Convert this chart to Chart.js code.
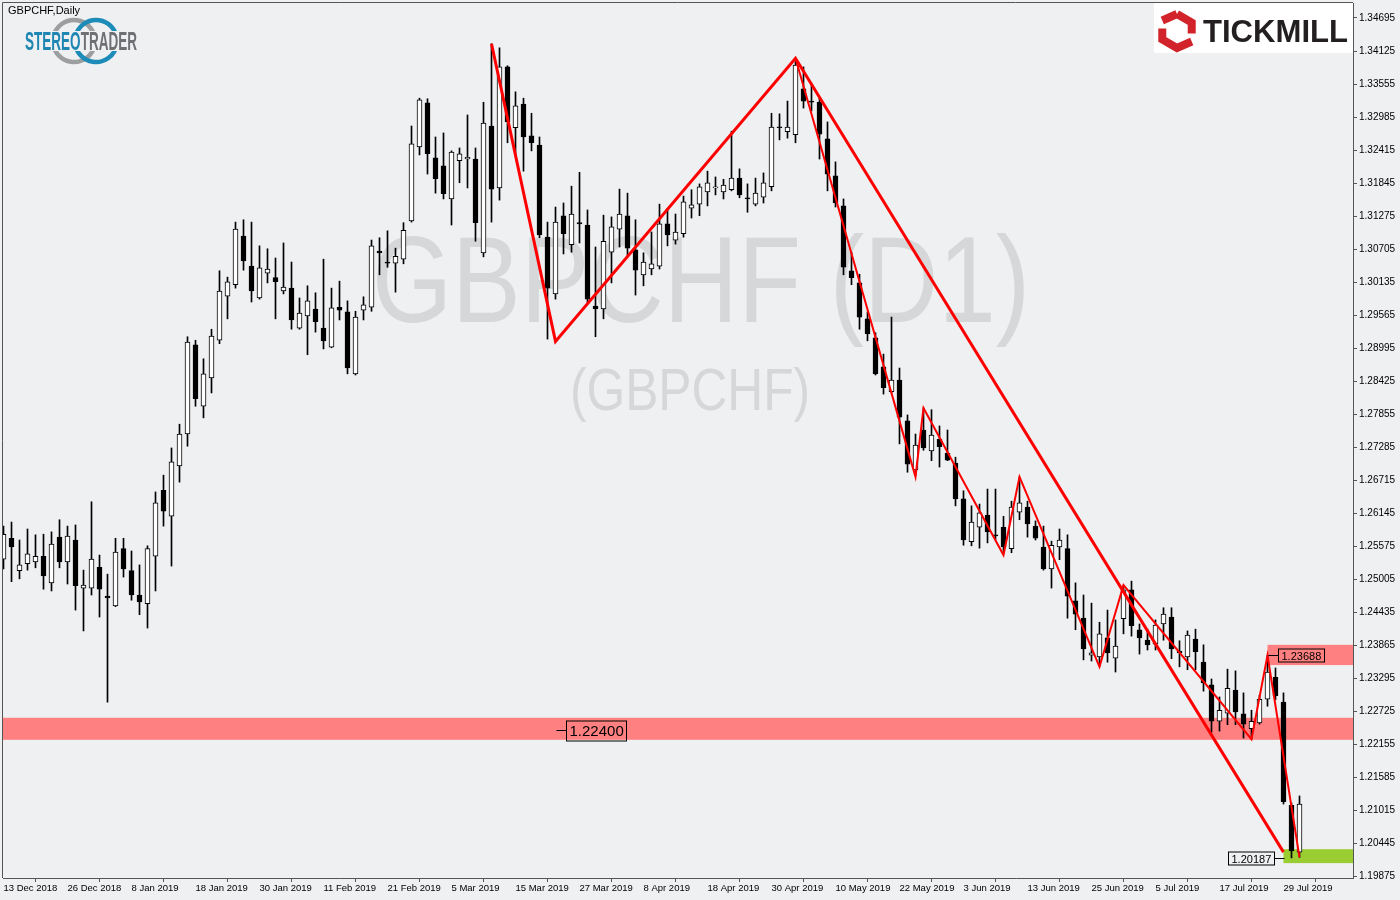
<!DOCTYPE html>
<html><head><meta charset="utf-8">
<script src="https://cdn.jsdelivr.net/npm/chart.js@4.4.1/dist/chart.umd.min.js"></script>
<style>html,body{margin:0;padding:0;background:#EFF0F2;}canvas{display:block;}</style>
</head><body>
<canvas id="c" width="1400" height="900"></canvas>
<script>
// ---------------- DATA ----------------
const symbolTitle = 'GBPCHF,Daily';
const watermarkMain = 'GBPCHF (D1)';
const watermarkSub = '(GBPCHF)';
// bar index of each bottom date label (one label every 8 daily bars)
const xTickBars = [0,8,16,24,32,40,48,56,64,72,80,88,96,104,112,120,128,136,144,152,160];
const xTickLabels = ['13 Dec 2018','26 Dec 2018','8 Jan 2019','18 Jan 2019','30 Jan 2019','11 Feb 2019','21 Feb 2019','5 Mar 2019','15 Mar 2019','27 Mar 2019','8 Apr 2019','18 Apr 2019','30 Apr 2019','10 May 2019','22 May 2019','3 Jun 2019','13 Jun 2019','25 Jun 2019','5 Jul 2019','17 Jul 2019','29 Jul 2019'];
const yTickValues = [1.34695,1.34125,1.33555,1.32985,1.32415,1.31845,1.31275,1.30705,1.30135,1.29565,1.28995,1.28425,1.27855,1.27285,1.26715,1.26145,1.25575,1.25005,1.24435,1.23865,1.23295,1.22725,1.22155,1.21585,1.21015,1.20445,1.19875];
const yMin = 1.19843, yMax = 1.34954;
const xMin = -0.0625, xMax = 168.6875;

const open = [1.2535,1.2571,1.2515,1.2527,1.2530,1.2540,1.2494,1.2573,1.2530,1.2568,
1.2485,1.2485,1.2521,1.2471,1.2454,1.2553,1.2515,1.2473,1.2458,1.2540,
1.2654,1.2609,1.2696,1.2751,1.2905,1.2799,1.2848,1.2913,1.2989,1.3009,
1.3093,1.3041,1.2986,1.3029,1.3021,1.2998,1.3003,1.2934,1.2955,1.2967,
1.2934,1.2901,1.2970,1.2962,1.2855,1.2965,1.2970,1.3067,1.3048,1.3046,
1.3053,1.3119,1.3247,1.3323,1.3228,1.3214,1.3157,1.3223,1.3226,1.3226,
1.3064,1.3283,1.3176,1.3385,1.3280,1.3321,1.3266,1.3250,1.3091,1.2993,
1.3128,1.3078,1.3116,1.3112,1.2972,1.2967,1.3065,1.3105,1.3128,1.3069,
1.3026,1.3036,1.3041,1.3114,1.3086,1.3097,1.3141,1.3148,1.3169,1.3176,
1.3169,1.3173,1.3193,1.3159,1.3148,1.3160,1.3178,1.3281,1.3273,1.3268,
1.3347,1.3326,1.3324,1.3261,1.3197,1.3145,1.3033,1.3012,1.2950,1.2917,
1.2867,1.2824,1.2844,1.2774,1.2689,1.2758,1.2722,1.2742,1.2718,1.2701,
1.2639,1.2565,1.2590,1.2611,1.2577,1.2590,1.2553,1.2616,1.2625,1.2592,
1.2556,1.2518,1.2556,1.2553,1.2463,1.2433,1.2369,1.2366,1.2399,1.2364,
1.2432,1.2482,1.2413,1.2395,1.2388,1.2423,1.2435,1.2376,1.2366,1.2397,
1.2357,1.2318,1.2255,1.2269,1.2309,1.2268,1.2242,1.2252,1.2293,1.2331,
1.2288,1.2110,1.2029];
const high = [1.2592,1.2599,1.2568,1.2587,1.2577,1.2578,1.2582,1.2603,1.2592,1.2594,
1.2516,1.2634,1.2542,1.2509,1.2571,1.2571,1.2549,1.2525,1.2558,1.2651,
1.2680,1.2727,1.2768,1.2919,1.2913,1.2881,1.2932,1.3033,1.3022,1.3117,
1.3121,1.3117,1.3076,1.3071,1.3055,1.3081,1.3048,1.2986,1.3007,1.2995,
1.3053,1.3003,1.3015,1.2981,1.2963,1.2988,1.3086,1.3090,1.3102,1.3072,
1.3116,1.3283,1.3331,1.3330,1.3264,1.3271,1.3240,1.3245,1.3302,1.3245,
1.3324,1.3425,1.3418,1.3387,1.3342,1.3331,1.3305,1.3264,1.3117,1.3143,
1.3150,1.3179,1.3203,1.3138,1.3074,1.3129,1.3126,1.3174,1.3167,1.3121,
1.3064,1.3100,1.3148,1.3140,1.3131,1.3162,1.3173,1.3183,1.3205,1.3195,
1.3191,1.3274,1.3209,1.3183,1.3193,1.3202,1.3305,1.3304,1.3326,1.3400,
1.3385,1.3356,1.3331,1.3290,1.3221,1.3157,1.3065,1.3027,1.2962,1.2926,
1.2889,1.2953,1.2865,1.2784,1.2751,1.2796,1.2793,1.2765,1.2758,1.2711,
1.2653,1.2627,1.2630,1.2656,1.2656,1.2609,1.2635,1.2677,1.2635,1.2601,
1.2592,1.2566,1.2587,1.2577,1.2494,1.2473,1.2459,1.2426,1.2447,1.2430,
1.2490,1.2497,1.2423,1.2414,1.2430,1.2451,1.2451,1.2394,1.2411,1.2414,
1.2387,1.2328,1.2297,1.2345,1.2342,1.2304,1.2274,1.2300,1.2369,1.2347,
1.2304,1.2114,1.2126];
const low = [1.2518,1.2496,1.2501,1.2516,1.2520,1.2483,1.2480,1.2520,1.2492,1.2447,
1.2411,1.2473,1.2435,1.2288,1.2453,1.2504,1.2464,1.2439,1.2416,1.2480,
1.2592,1.2523,1.2668,1.2730,1.2799,1.2779,1.2822,1.2907,1.2950,1.3003,
1.3034,1.2979,1.2984,1.3012,1.2950,1.2993,1.2932,1.2932,1.2888,1.2927,
1.2898,1.2900,1.2948,1.2855,1.2853,1.2948,1.2963,1.3026,1.3039,1.2996,
1.3045,1.3117,1.3233,1.3200,1.3167,1.3157,1.3112,1.3185,1.3176,1.3084,
1.3057,1.3117,1.3155,1.3254,1.3233,1.3205,1.3240,1.3090,1.2915,1.2984,
1.3062,1.3065,1.3081,1.2976,1.2919,1.2950,1.3012,1.3074,1.3058,1.2991,
1.3007,1.3026,1.3036,1.3076,1.3079,1.3091,1.3124,1.3128,1.3145,1.3164,
1.3157,1.3171,1.3159,1.3134,1.3145,1.3150,1.3171,1.3259,1.3262,1.3254,
1.3314,1.3309,1.3226,1.3171,1.3143,1.3026,1.3009,1.2932,1.2912,1.2853,
1.2820,1.2822,1.2734,1.2685,1.2679,1.2723,1.2705,1.2694,1.2705,1.2627,
1.2559,1.2558,1.2554,1.2563,1.2568,1.2546,1.2546,1.2603,1.2573,1.2568,
1.2516,1.2485,1.2534,1.2433,1.2413,1.2361,1.2359,1.2350,1.2357,1.2340,
1.2406,1.2402,1.2371,1.2378,1.2378,1.2395,1.2363,1.2349,1.2344,1.2344,
1.2307,1.2236,1.2238,1.2249,1.2249,1.2226,1.2224,1.2250,1.2281,1.2292,
1.2112,1.2019,1.2020];
const close = [1.2578,1.2556,1.2525,1.2544,1.2540,1.2506,1.2561,1.2530,1.2575,1.2489,
1.2490,1.2535,1.2483,1.2468,1.2547,1.2518,1.2473,1.2461,1.2553,1.2632,
1.2618,1.2703,1.2751,1.2910,1.2812,1.2855,1.2920,1.2998,1.3014,1.3105,
1.3050,1.2998,1.3038,1.3036,1.3014,1.3005,1.2948,1.2960,1.2981,1.2945,
1.2912,1.2969,1.2965,1.2865,1.2953,1.2974,1.3076,1.3064,1.3046,1.3058,
1.3103,1.3252,1.3328,1.3235,1.3192,1.3166,1.3238,1.3235,1.3229,1.3116,
1.3288,1.3174,1.3385,1.3290,1.3318,1.3264,1.3254,1.3095,1.3003,1.3117,
1.3097,1.3131,1.3114,1.2984,1.2967,1.3084,1.3109,1.3131,1.3072,1.3034,
1.3048,1.3045,1.3114,1.3095,1.3100,1.3152,1.3147,1.3178,1.3185,1.3177,
1.3181,1.3193,1.3164,1.3157,1.3167,1.3185,1.3281,1.3280,1.3281,1.3388,
1.3326,1.3324,1.3269,1.3200,1.3150,1.3039,1.3021,1.2953,1.2924,1.2855,
1.2831,1.2844,1.2780,1.2699,1.2732,1.2727,1.2749,1.2729,1.2706,1.2639,
1.2568,1.2599,1.2615,1.2582,1.2575,1.2556,1.2625,1.2632,1.2596,1.2571,
1.2518,1.2559,1.2568,1.2471,1.2440,1.2380,1.2373,1.2406,1.2373,1.2385,
1.2482,1.2420,1.2399,1.2387,1.2421,1.2440,1.2380,1.2373,1.2404,1.2375,
1.2321,1.2255,1.2274,1.2312,1.2271,1.2250,1.2255,1.2293,1.2340,1.2299,
1.2116,1.2031,1.2112];

// drawn analysis objects (bar index, price)
const trendThick = [{x:61,y:1.3425},{x:69,y:1.2911},{x:99,y:1.3400},{x:160,y:1.2029}];
const zigzagThin = [{x:99,y:1.3400},{x:114,y:1.2677},{x:115,y:1.2796},{x:125,y:1.2542},{x:127,y:1.2677},{x:137,y:1.2349},{x:140,y:1.2490},{x:156,y:1.2224},{x:158,y:1.2369},{x:162,y:1.2020}];
const zoneSupportOld = {fromBar:null, top:1.2261, bottom:1.2223};
const zoneHigh = {fromBar:158, top:1.2387, bottom:1.2352};
const zoneLow = {fromBar:160, top:1.2034, bottom:1.2010};
const priceLabels = [
  {bar:69, price:1.22400, text:'1.22400', side:'right', big:true},
  {bar:158, price:1.23688, text:'1.23688', side:'right', big:false},
  {bar:160, price:1.20187, text:'1.20187', side:'left', big:false}
];

// ---------------- CHART ----------------
const BG = '#EFF0F2';
const idx = open.map((_, i) => i);
const wickData = idx.map(i => ({x:i, y:[low[i], high[i]]}));
const bodyData = idx.map(i => ({x:i, y:[open[i], close[i]]}));
const bodyColors = idx.map(i => close[i] >= open[i] ? '#FFFFFF' : '#000000');

function zoneRect(ctx, ca, xs, ys, z, color) {
  const x0 = z.fromBar === null ? ca.left : xs.getPixelForValue(z.fromBar);
  const y0 = ys.getPixelForValue(z.top), y1 = ys.getPixelForValue(z.bottom);
  ctx.fillStyle = color;
  ctx.fillRect(x0, y0, ca.right - x0, y1 - y0);
}
function noPad(s) { s.paddingTop = 0; s.paddingBottom = 0; s.paddingLeft = 0; s.paddingRight = 0; }

const decor = {
  id:'decor',
  beforeDraw(chart) {
    const ctx = chart.ctx;
    ctx.save(); ctx.fillStyle = BG; ctx.fillRect(0,0,chart.width,chart.height); ctx.restore();
  },
  beforeDatasetsDraw(chart) {
    const ctx = chart.ctx, ca = chart.chartArea, xs = chart.scales.x, ys = chart.scales.y;
    ctx.save();
    ctx.beginPath(); ctx.rect(ca.left, ca.top, ca.right-ca.left, ca.bottom-ca.top); ctx.clip();
    // watermark
    ctx.fillStyle = '#D6D7D9';
    ctx.textBaseline = 'alphabetic';
    ctx.font = '122px "Liberation Sans"';
    let w = ctx.measureText(watermarkMain).width;
    ctx.save(); ctx.translate(372, 322); ctx.scale(658/w, 1); ctx.fillText(watermarkMain, 0, 0); ctx.restore();
    ctx.font = '60px "Liberation Sans"';
    w = ctx.measureText(watermarkSub).width;
    ctx.save(); ctx.translate(570, 410); ctx.scale(240/w, 1); ctx.fillText(watermarkSub, 0, 0); ctx.restore();
    // zones
    zoneRect(ctx, ca, xs, ys, zoneSupportOld, '#FF8080');
    zoneRect(ctx, ca, xs, ys, zoneHigh, '#FF8080');
    zoneRect(ctx, ca, xs, ys, zoneLow, '#9ACD32');
    ctx.restore();
  },
  afterDatasetsDraw(chart) {
    const ctx = chart.ctx, ca = chart.chartArea, xs = chart.scales.x, ys = chart.scales.y;
    ctx.save();
    // price labels
    priceLabels.forEach(p => {
      const x = Math.round(xs.getPixelForValue(p.bar)) + 0.5;
      const y = Math.round(ys.getPixelForValue(p.price)) + 0.5;
      ctx.font = (p.big ? '15px' : '11px') + ' "Liberation Sans"';
      const tw = ctx.measureText(p.text).width;
      const bw = Math.round(tw + 6), bh = p.big ? 20 : 13;
      const gap = 10;
      let bx = p.side === 'right' ? x + gap : x - gap - bw;
      ctx.strokeStyle = '#000'; ctx.lineWidth = 1;
      ctx.beginPath();
      if (p.side === 'right') { ctx.moveTo(x, y); ctx.lineTo(bx, y); }
      else { ctx.moveTo(bx + bw, y); ctx.lineTo(x, y); }
      ctx.stroke();
      ctx.strokeRect(bx, Math.round(y - bh/2), bw, bh);
      ctx.fillStyle = '#000'; ctx.textBaseline = 'middle'; ctx.textAlign = 'left';
      ctx.fillText(p.text, bx + 3, y + 1);
    });
    // frame left/top
    ctx.strokeStyle = '#555'; ctx.lineWidth = 1;
    ctx.beginPath();
    ctx.moveTo(ca.left - 0.5, ca.bottom); ctx.lineTo(ca.left - 0.5, ca.top - 0.5); ctx.lineTo(ca.right, ca.top - 0.5);
    ctx.stroke();
    ctx.restore();
  },
  afterDraw(chart) {
    const ctx = chart.ctx;
    ctx.save();
    // title
    ctx.fillStyle = '#000'; ctx.font = '11px "Liberation Sans"'; ctx.textBaseline = 'middle'; ctx.textAlign = 'left';
    ctx.fillText(symbolTitle, 8, 11);
    // StereoTrader logo
    ctx.lineWidth = 4.5;
    ctx.strokeStyle = '#9C9EA0';
    ctx.beginPath(); ctx.arc(74, 41, 21, Math.PI*1.05, Math.PI*1.95); ctx.stroke();
    ctx.beginPath(); ctx.arc(74, 41, 21, Math.PI*0.05, Math.PI*0.95); ctx.stroke();
    ctx.strokeStyle = '#1E8CB8';
    ctx.beginPath(); ctx.arc(96, 41, 21, Math.PI*1.05, Math.PI*1.95); ctx.stroke();
    ctx.beginPath(); ctx.arc(96, 41, 21, Math.PI*0.05, Math.PI*0.95); ctx.stroke();
    ctx.font = 'bold 25px "Liberation Sans"'; ctx.textBaseline = 'alphabetic';
    const w1 = ctx.measureText('STEREO').width, w2 = ctx.measureText('TRADER').width;
    const sx = 112/(w1+w2);
    ctx.save(); ctx.translate(25, 50); ctx.scale(sx, 1);
    ctx.fillStyle = BG; ctx.fillRect(-1, -19, w1 + w2 + 2, 20);
    ctx.fillStyle = '#1E86B2'; ctx.fillText('STEREO', 0, 0);
    ctx.fillStyle = '#6E7073'; ctx.fillText('TRADER', w1, 0);
    ctx.restore();
    // Tickmill logo
    ctx.fillStyle = '#FFFFFF'; ctx.fillRect(1154, 3, 199, 50);
    const cx = 1177, cy = 31, r = 17;
    ctx.strokeStyle = '#D2232A'; ctx.lineWidth = 8; ctx.lineJoin = 'miter';
    const pts = [];
    for (let k = 0; k < 6; k++) { const a = Math.PI/180*(-90 + 60*k); pts.push([cx + r*Math.cos(a), cy + r*Math.sin(a)]); }
    ctx.beginPath(); ctx.moveTo(pts[0][0], pts[0][1]); ctx.lineTo(pts[1][0], pts[1][1]); ctx.lineTo(pts[2][0], pts[2][1]-6); ctx.stroke();
    ctx.beginPath(); ctx.moveTo(pts[2][0], pts[2][1]+2); ctx.lineTo(pts[3][0], pts[3][1]); ctx.lineTo(pts[4][0], pts[4][1]); ctx.lineTo(pts[5][0], pts[5][1]+6); ctx.stroke();
    ctx.beginPath(); ctx.moveTo(pts[5][0], pts[5][1]-2); ctx.lineTo(pts[0][0], pts[0][1]); ctx.stroke();
    ctx.fillStyle = '#231F20'; ctx.font = 'bold 31px "Liberation Sans"'; ctx.textBaseline = 'alphabetic';
    const tw = ctx.measureText('TICKMILL').width;
    ctx.save(); ctx.translate(1203, 42); ctx.scale(145/tw, 1); ctx.fillText('TICKMILL', 0, 0); ctx.restore();
    ctx.restore();
  }
};

new Chart(document.getElementById('c'), {
  type: 'bar',
  data: { datasets: [
    {type:'line', data: trendThick, borderColor:'#FF0000', borderWidth:3, pointRadius:0, tension:0, order:0},
    {type:'line', data: zigzagThin, borderColor:'#FF0000', borderWidth:2, pointRadius:0, tension:0, order:0},
    {data: bodyData, backgroundColor: bodyColors, borderColor:'#000000', borderWidth:1, borderSkipped:false, barThickness:5, minBarLength:1, grouped:false, order:1},
    {data: wickData, backgroundColor:'#000000', borderWidth:0, barThickness:1, grouped:false, order:2}
  ]},
  options: {
    responsive:false, animation:false, devicePixelRatio:1,
    layout:{padding:{left:3, top:3, right:0, bottom:0}, autoPadding:false},
    plugins:{legend:{display:false}, tooltip:{enabled:false}},
    scales:{
      x:{type:'linear', min:xMin, max:xMax, offset:false,
        afterBuildTicks: s => { s.ticks = xTickBars.map(v => ({value:v})); },
        afterFit: s => { s.height = 22; noPad(s); },
        ticks:{autoSkip:false, maxRotation:0, minRotation:0, align:'start', padding:1, color:'#000',
          font:{family:'Liberation Sans', size:9.5}, callback:(v, i) => xTickLabels[i]},
        grid:{display:true, drawOnChartArea:false, drawTicks:true, tickLength:4, color:'#555'},
        border:{display:true, color:'#555'}},
      y:{type:'linear', position:'right', min:yMin, max:yMax,
        afterBuildTicks: s => { s.ticks = yTickValues.map(v => ({value:v})); },
        afterFit: s => { s.width = 47; noPad(s); },
        ticks:{autoSkip:false, padding:2, color:'#000', font:{family:'Liberation Sans', size:10},
          callback: v => Number(v).toFixed(5)},
        grid:{display:true, drawOnChartArea:false, drawTicks:true, tickLength:4, color:'#555'},
        border:{display:true, color:'#555'}}
    }
  },
  plugins:[decor]
});
</script>
</body></html>
